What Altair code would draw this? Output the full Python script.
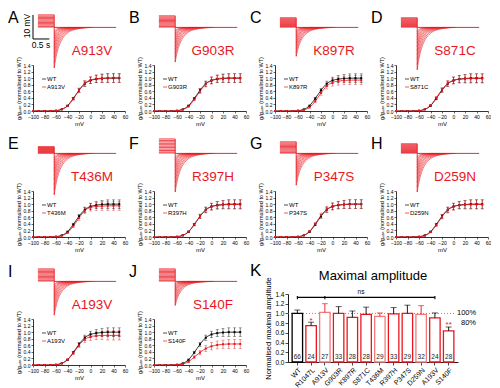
import altair as alt
import pandas as pd

FONT = "Liberation Sans"
RED = "#e8171e"
PINK = "#f27c7c"

# ---------------- conductance-voltage data (panels A-J) ----------------
V_MV = [-100, -90, -80, -70, -60, -50, -40, -30, -20, -10, 0, 10, 20, 30, 40, 50]
WT_G = [0, 0, 0, 0, 0.01, 0.05, 0.16, 0.38, 0.63, 0.83, 0.93, 0.97, 0.99, 1.0, 1.0, 1.0]
WT_ERR = [0, 0, 0, 0, 0.005, 0.01, 0.02, 0.04, 0.06, 0.08, 0.10, 0.11, 0.12, 0.13, 0.13, 0.13]
MUT_ERR = [0, 0, 0, 0, 0.005, 0.01, 0.02, 0.04, 0.07, 0.09, 0.11, 0.12, 0.13, 0.14, 0.14, 0.14]

LETTERS = ["A", "B", "C", "D", "E", "F", "G", "H", "I", "J"]
MUTANTS = ["A913V", "G903R", "K897R", "S871C", "T436M", "R397H", "P347S", "D259N", "A193V", "S140F"]
MUT_G = {
    "A913V": [0, 0, 0, 0, 0.01, 0.05, 0.15, 0.37, 0.63, 0.84, 0.94, 0.98, 1.0, 1.0, 1.01, 1.01],
    "G903R": [0, 0, 0, 0, 0.01, 0.04, 0.14, 0.35, 0.60, 0.82, 0.93, 0.98, 1.0, 1.0, 1.0, 1.0],
    "K897R": [0, 0, 0, 0, 0.01, 0.03, 0.11, 0.30, 0.55, 0.76, 0.87, 0.91, 0.93, 0.94, 0.94, 0.94],
    "S871C": [0, 0, 0, 0, 0.01, 0.05, 0.17, 0.40, 0.65, 0.84, 0.93, 0.97, 0.98, 0.99, 0.99, 0.99],
    "T436M": [0, 0, 0, 0, 0.01, 0.04, 0.13, 0.33, 0.58, 0.80, 0.90, 0.93, 0.94, 0.95, 0.95, 0.95],
    "R397H": [0, 0, 0, 0, 0.01, 0.05, 0.16, 0.38, 0.63, 0.82, 0.92, 0.96, 0.98, 0.99, 0.99, 0.99],
    "P347S": [0, 0, 0, 0, 0.01, 0.05, 0.17, 0.40, 0.66, 0.84, 0.93, 0.97, 0.99, 1.0, 1.0, 1.0],
    "D259N": [0, 0, 0, 0, 0.01, 0.04, 0.15, 0.36, 0.62, 0.82, 0.92, 0.97, 0.98, 0.99, 0.99, 0.99],
    "A193V": [0, 0, 0, 0, 0.01, 0.05, 0.16, 0.36, 0.60, 0.78, 0.86, 0.89, 0.90, 0.90, 0.90, 0.90],
    "S140F": [0, 0, 0, 0, 0.005, 0.03, 0.10, 0.24, 0.38, 0.50, 0.57, 0.61, 0.63, 0.64, 0.64, 0.64],
}

# ---------------- current trace families ----------------
STEP_MV = [5.2, 4.8, 4.0, 4.0, 2.8, 6.0, 4.8, 4.0, 5.2, 5.2]      # height of the pre-step block
TAIL_MV = [16.8, 14.4, 12.0, 17.6, 17.2, 16.0, 13.2, 16.0, 14.0, 10.0]  # deepest tail
SWEEP_LEVEL = [1.0, 0.9, 0.8, 0.7, 0.6, 0.5, 0.4, 0.3, 0.2, 0.1, 0.03]
SWEEP_DEPTH = [1.0, 0.87, 0.75, 0.64, 0.54, 0.45, 0.37, 0.29, 0.22, 0.16, 0.1]
SWEEP_SPAN = [1.0, 0.94, 0.88, 0.82, 0.76, 0.70, 0.64, 0.58, 0.52, 0.46, 0.4]
TAIL_T = [0, 0.04, 0.08, 0.15, 0.25, 0.40, 0.60, 0.85, 1.20]
TAIL_SHAPE = [1.0, 0.80, 0.64, 0.45, 0.28, 0.14, 0.06, 0.02, 0.0]
TRACE_END_S = 1.9

# ---------------- panel K data ----------------
K_NAMES = ["WT", "R1047L", "A913V", "G903R", "K897R", "S871C", "T436M", "R397H",
           "P347S", "D259N", "A193V", "S140F"]
K_AMP = [1.0, 0.75, 1.02, 1.0, 0.92, 0.98, 0.94, 0.99, 1.0, 0.98, 0.91, 0.64]
K_ERR = [0.07, 0.07, 0.18, 0.14, 0.13, 0.15, 0.07, 0.13, 0.17, 0.18, 0.10, 0.08]
K_N = [66, 24, 27, 33, 28, 28, 29, 33, 29, 32, 24, 28]
K_GRP = ["WT", "dark", "light", "dark", "dark", "dark", "light", "dark", "dark", "light", "dark", "dark"]
STAR_NAMES = ["R1047L", "S140F"]
STAR_TEXT = ["*", "**"]
STAR_Y = [0.85, 0.76]

PW, TH, CH = 92, 53, 46
K_W, K_H = 170, 68
YT = "g/gₘₐₓ (normalised to WT)"


def tx(field):
    return alt.X(f"{field}:Q", scale=alt.Scale(domain=[-0.65, 2.17], nice=False, zero=False), axis=None)


def ty(field):
    return alt.Y(f"{field}:Q", scale=alt.Scale(domain=[-15.6, 6.4], nice=False, zero=False), axis=None)


def traces_chart(i):
    step, depth = STEP_MV[i], TAIL_MV[i]
    rows = []
    for s, (df_, sp) in enumerate(zip(SWEEP_DEPTH, SWEEP_SPAN)):
        for tt, sh in zip(TAIL_T, TAIL_SHAPE):
            rows.append({"sweep": s, "t": tt * sp, "v": -depth * df_ * sh})
    tails = pd.DataFrame(rows)
    steps = pd.DataFrame({"t": [-0.5] * len(SWEEP_LEVEL), "t1": [0.0] * len(SWEEP_LEVEL),
                          "v": [step * f for f in SWEEP_LEVEL]})
    drop = pd.DataFrame({"t": [0.0], "v": [step], "v1": [-depth]})
    base = pd.DataFrame({"t": [0.0], "t1": [TRACE_END_S], "v": [0.0]})

    layers = [
        alt.Chart(steps).mark_rule(color=RED, strokeWidth=0.8).encode(x=tx("t"), x2="t1:Q", y=ty("v")),
        alt.Chart(drop).mark_rule(color=RED, strokeWidth=0.9).encode(x=tx("t"), y=ty("v"), y2="v1:Q"),
        alt.Chart(base).mark_rule(color=RED, strokeWidth=0.9).encode(x=tx("t"), x2="t1:Q", y=ty("v")),
        alt.Chart(tails).mark_line(color=RED, strokeWidth=0.6, interpolate="monotone").encode(
            x=tx("t"), y=ty("v"), detail="sweep:N"),
    ]
    if i == 0:
        sb_v = pd.DataFrame({"t": [-0.65], "v": [5.2], "v1": [5.2 - 10]})
        sb_h = pd.DataFrame({"t": [-0.65], "t1": [-0.65 + 0.5], "v": [5.2 - 10]})
        layers += [
            alt.Chart(sb_v).mark_rule(color="black", strokeWidth=1).encode(x=tx("t"), y=ty("v"), y2="v1:Q"),
            alt.Chart(sb_h).mark_rule(color="black", strokeWidth=1).encode(x=tx("t"), x2="t1:Q", y=ty("v")),
            alt.Chart(pd.DataFrame({"s": ["10 mV"]})).mark_text(fontSize=8.5, angle=270, baseline="middle").encode(
                x=alt.value(-6), y=alt.value(14), text="s:N"),
            alt.Chart(pd.DataFrame({"s": ["0.5 s"]})).mark_text(fontSize=8.5, baseline="middle").encode(
                x=alt.value(8), y=alt.value(33), text="s:N"),
        ]
    layers += [
        alt.Chart(pd.DataFrame({"s": [LETTERS[i]]})).mark_text(
            fontSize=16, align="left", baseline="top").encode(x=alt.value(-25), y=alt.value(-2), text="s:N"),
        alt.Chart(pd.DataFrame({"s": [MUTANTS[i]]})).mark_text(
            fontSize=13.5, color=RED, align="center", baseline="middle").encode(
            x=alt.value(59), y=alt.value(39), text="s:N"),
    ]
    return alt.layer(*layers).properties(width=PW, height=TH)


def cx():
    return alt.X("V:Q", scale=alt.Scale(domain=[-100, 60], nice=False),
                 axis=alt.Axis(values=[-100, -80, -60, -40, -20, 0, 20, 40, 60], title="mV",
                               labelFontSize=5, titleFontSize=6, tickSize=2, labelPadding=1,
                               titlePadding=1, labelOverlap=False, labelFlush=False,
                               domainWidth=0.8, tickWidth=0.6))


def cy(field):
    return alt.Y(f"{field}:Q", scale=alt.Scale(domain=[0, 1.4], nice=False),
                 axis=alt.Axis(values=[0, 0.2, 0.4, 0.6, 0.8, 1.0, 1.2, 1.4], format=".1f", title=YT,
                               labelFontSize=5, titleFontSize=5.5, tickSize=2, labelPadding=1,
                               titlePadding=2, labelOverlap=False, labelFlush=False,
                               domainWidth=0.8, tickWidth=0.6))


def cond_chart(i):
    name = MUTANTS[i]
    mg = MUT_G[name]
    df = pd.DataFrame({
        "V": V_MV + V_MV,
        "g": WT_G + mg,
        "lo": [g - e for g, e in zip(WT_G, WT_ERR)] + [g - e for g, e in zip(mg, MUT_ERR)],
        "hi": [g + e for g, e in zip(WT_G, WT_ERR)] + [g + e for g, e in zip(mg, MUT_ERR)],
        "series": ["WT"] * len(V_MV) + ["MUT"] * len(V_MV),
    })
    col = alt.Color("series:N", scale=alt.Scale(domain=["WT", "MUT"], range=["black", RED]), legend=None)
    base = alt.Chart(df)
    line = base.mark_line(interpolate="monotone", strokeWidth=0.8).encode(x=cx(), y=cy("g"), color=col, detail="series:N")
    pts = base.mark_square(size=4, opacity=1).encode(x=cx(), y=cy("g"), color=col)
    err = base.transform_filter("datum.hi - datum.lo > 0.03").mark_rule(strokeWidth=0.5).encode(
        x=cx(), y=cy("lo"), y2="hi:Q", color=col)
    cap_hi = base.transform_filter("datum.hi - datum.lo > 0.03").mark_tick(
        orient="horizontal", size=3, thickness=0.5).encode(x=cx(), y=cy("hi"), color=col)
    cap_lo = base.transform_filter("datum.hi - datum.lo > 0.03").mark_tick(
        orient="horizontal", size=3, thickness=0.5).encode(x=cx(), y=cy("lo"), color=col)

    one = pd.DataFrame({"s": ["WT"], "m": [name]})
    leg = [
        alt.Chart(one).mark_rule(color="black", strokeWidth=0.7).encode(x=alt.value(9), x2=alt.value(13), y=alt.value(14)),
        alt.Chart(one).mark_text(fontSize=6, align="left", baseline="middle").encode(x=alt.value(14), y=alt.value(14), text="s:N"),
        alt.Chart(one).mark_rule(color=RED, strokeWidth=0.7).encode(x=alt.value(9), x2=alt.value(13), y=alt.value(22)),
        alt.Chart(one).mark_text(fontSize=6, align="left", baseline="middle").encode(x=alt.value(14), y=alt.value(22), text="m:N"),
    ]
    return alt.layer(line, err, cap_hi, cap_lo, pts, *leg).properties(width=PW, height=CH)


def panel(i):
    return alt.vconcat(traces_chart(i), cond_chart(i), spacing=0, bounds="flush")


K_XSCALE = alt.Scale(domain=K_NAMES, paddingInner=0.24, paddingOuter=0.3)
K_YSCALE = alt.Scale(domain=[0, 1.4], nice=False, zero=True)
K_XAXIS = alt.Axis(labelAngle=-45, labelFontSize=7, title=None, tickSize=3, labelPadding=1,
                   domainWidth=0.9, tickWidth=0.7, labelOverlap=False)
K_YAXIS = alt.Axis(values=[0, 0.2, 0.4, 0.6, 0.8, 1.0, 1.2, 1.4], format=".1f",
                   title="Normalised maximal amplitude", labelFontSize=6.5,
                   titleFontSize=7.5, tickSize=3, labelPadding=1, titlePadding=2,
                   domainWidth=0.9, tickWidth=0.7, labelOverlap=False, labelFlush=False)


def kx(field):
    return alt.X(f"{field}:N", sort=K_NAMES, scale=K_XSCALE, axis=K_XAXIS)


def ky(field):
    return alt.Y(f"{field}:Q", scale=K_YSCALE, axis=K_YAXIS)


def k_panel():
    df = pd.DataFrame({"name": K_NAMES, "amp": K_AMP, "hi": [a + e for a, e in zip(K_AMP, K_ERR)],
                       "n": [str(v) for v in K_N], "grp": K_GRP})
    cscale = alt.Scale(domain=["WT", "dark", "light"], range=["black", RED, PINK])
    base = alt.Chart(df)
    bars = base.mark_bar(fill="white", strokeWidth=1.3).encode(
        x=kx("name"), y=ky("amp"), stroke=alt.Stroke("grp:N", scale=cscale, legend=None))
    err = base.mark_rule(strokeWidth=0.9).encode(x=kx("name"), y=ky("amp"), y2="hi:Q",
                                                  color=alt.Color("grp:N", scale=cscale, legend=None))
    cap = base.mark_tick(orient="horizontal", size=6, thickness=0.9).encode(
        x=kx("name"), y=ky("hi"), color=alt.Color("grp:N", scale=cscale, legend=None))
    counts = base.mark_text(fontSize=6.5, baseline="middle", color="#222").encode(
        x=kx("name"), y=alt.value(K_H - 5), text="n:N")

    refs = pd.DataFrame({"s": ["100%", "80%"], "lvl": [1.0, 0.8]})
    line100 = alt.Chart(refs.iloc[:1]).mark_rule(color="#b05050", strokeWidth=0.8, strokeDash=[1, 2]).encode(
        x=alt.value(0), x2=alt.value(K_W - 4), y=ky("lvl"))
    txt100 = alt.Chart(refs.iloc[:1]).mark_text(fontSize=7.5, align="left", baseline="middle").encode(
        x=alt.value(K_W - 1), y=ky("lvl"), text="s:N")
    txt80 = alt.Chart(refs.iloc[1:]).mark_text(fontSize=7.5, align="left", baseline="middle").encode(
        x=alt.value(K_W + 3), y=ky("lvl"), text="s:N")

    brk_df = pd.DataFrame({"a": ["WT"], "b": ["A193V"], "lvl": [1.33]})
    brk = alt.Chart(brk_df).mark_rule(color="black", strokeWidth=1.1).encode(
        x=kx("a"), x2="b:N", y=ky("lvl"))
    tick_df = pd.DataFrame({"a": ["WT", "A913V", "A193V"], "lo": [1.29] * 3, "hi": [1.36] * 3})
    brk_ticks = alt.Chart(tick_df).mark_rule(color="black", strokeWidth=1.1).encode(
        x=kx("a"), y=ky("lo"), y2="hi:Q")
    ns = alt.Chart(pd.DataFrame({"s": ["ns"], "lvl": [1.44]})).mark_text(fontSize=6.5, baseline="middle").encode(
        x=alt.value(73), y=ky("lvl"), text="s:N")
    stars = alt.Chart(pd.DataFrame({"name": STAR_NAMES, "s": STAR_TEXT, "y": STAR_Y})).mark_text(
        fontSize=8, color=RED, baseline="middle").encode(x=kx("name"), y=ky("y"), text="s:N")
    main = alt.layer(line100, bars, err, cap, counts, txt100, txt80, brk, brk_ticks, ns, stars).properties(
        width=K_W, height=K_H)

    letter = alt.Chart(pd.DataFrame({"s": ["K"]})).mark_text(fontSize=17, align="left", baseline="top").encode(
        x=alt.value(-38), y=alt.value(-3), text="s:N")
    title = alt.Chart(pd.DataFrame({"s": ["Maximal amplitude"]})).mark_text(fontSize=13, baseline="middle").encode(
        x=alt.value(K_W / 2), y=alt.value(10), text="s:N")
    header = alt.layer(letter, title).properties(width=K_W, height=28)
    return alt.vconcat(header, main, spacing=0, bounds="flush")


row1 = alt.hconcat(*[panel(i) for i in range(0, 4)], spacing=1)
row2 = alt.hconcat(*[panel(i) for i in range(4, 8)], spacing=1)
row3 = alt.hconcat(panel(8), panel(9), k_panel(), spacing=1)

chart = alt.vconcat(row1, row2, row3, spacing=10).properties(
    padding={"left": 0, "top": 2, "right": 0, "bottom": 0}
).configure_view(strokeWidth=0).configure_axis(
    grid=False, domainColor="black", tickColor="black", labelColor="black", titleColor="black",
    labelFont=FONT, titleFont=FONT, titleFontWeight="normal"
).configure_text(font=FONT)

chart.save("out.html", embed_options={"renderer": "svg", "actions": False})
